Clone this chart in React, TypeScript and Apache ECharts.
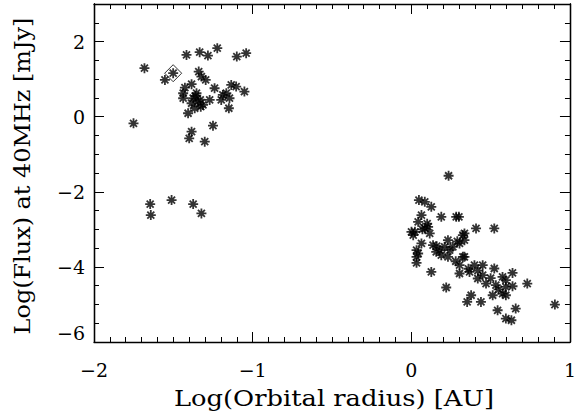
import React, { useEffect, useRef } from "react";
import * as echarts from "echarts";

// Log(Orbital radius) [AU], Log(Flux) at 40MHz [mJy]
const closeInGroup: [number, number][] = [
  [0.235, -1.573], [0.048, -2.221], [0.085, -2.267], [0.126, -2.4], [0.189, -2.667],
  [0.283, -2.667], [0.3, -2.667], [0.064, -2.621], [0.043, -2.8], [0.106, -2.933],
  [0.085, -2.976], [0.023, -3.067], [0.012, -3.155], [0.116, -3.109], [0.408, -2.976],
  [0.523, -2.976], [0.335, -3.109], [0.335, -3.288], [0.304, -3.376], [0.231, -3.288],
  [0.064, -3.376], [0.033, -3.555], [0.137, -3.421], [0.179, -3.555], [0.21, -3.467],
  [0.242, -3.555], [0.262, -3.467], [0.231, -3.733], [0.033, -3.733], [0.189, -3.688],
  [0.325, -3.733], [0.043, -3.643], [0.033, -3.893], [0.126, -4.133], [0.22, -4.549],
  [0.157, -3.6], [0.335, -3.733], [0.304, -3.955], [0.304, -4.176], [0.367, -4.133],
  [0.398, -3.955], [0.419, -4.309], [0.45, -3.955], [0.45, -4.221], [0.471, -4.443],
  [0.523, -4.043], [0.575, -4.267], [0.596, -4.355], [0.638, -4.16], [0.533, -4.488],
  [0.513, -4.755], [0.575, -4.709], [0.596, -4.533], [0.638, -4.515], [0.596, -4.755],
  [0.377, -4.755], [0.352, -4.933], [0.439, -4.933], [0.544, -5.155], [0.596, -5.376],
  [0.631, -5.421], [0.658, -5.109], [0.731, -4.443], [0.905, -5.003], [0.001, -3.067],
  [0.325, -3.155], [0.29, -3.32], [0.07, -3.0], [0.1, -2.85], [0.16, -3.45],
  [0.36, -4.05], [0.5, -4.3], [0.55, -4.6], [0.42, -4.1], [0.28, -3.85],
];

const outerGroup: [number, number][] = [
  [-1.417, 1.645], [-1.334, 1.717], [-1.282, 1.627], [-1.223, 1.824], [-1.1, 1.6],
  [-1.041, 1.691], [-1.682, 1.291], [-1.501, 1.157], [-1.553, 0.979], [-1.34, 1.2],
  [-1.323, 1.067], [-1.296, 0.979], [-1.385, 0.864], [-1.427, 0.773], [-1.438, 0.624],
  [-1.438, 0.491], [-1.354, 0.624], [-1.375, 0.491], [-1.344, 0.4], [-1.385, 0.357],
  [-1.313, 0.312], [-1.271, 0.445], [-1.24, 0.757], [-1.188, 0.579], [-1.166, 0.624],
  [-1.135, 0.845], [-1.104, 0.8], [-1.052, 0.667], [-1.146, 0.491], [-1.198, 0.445],
  [-1.15, 0.224], [-1.365, 0.224], [-1.407, 0.091], [-1.327, 0.267], [-1.751, -0.176],
  [-1.25, -0.24], [-1.385, -0.4], [-1.4, -0.576], [-1.302, -0.667], [-1.36, 0.55],
  [-1.33, 0.45],
];

const lowFluxGroup: [number, number][] = [
  [-1.646, -2.328], [-1.642, -2.621], [-1.511, -2.221], [-1.375, -2.328], [-1.323, -2.576],
];

const markedPoint: [number, number][] = [[-1.501, 1.157]];

const xTitle = "Log(Orbital radius) [AU]";
const yTitle = "Log(Flux) at 40MHz [mJy]";

const STAR = "path://M5,0L5,10M0,5L10,5M1.5,1.5L8.5,8.5M8.5,1.5L1.5,8.5";
const FONT = "DejaVu Serif";
const minus = (v: number) => String(v).replace("-", "\u2212");

export default function App() {
  const ref = useRef<HTMLDivElement>(null);
  useEffect(() => {
    document.body.style.margin = "0";
    const chart = echarts.init(ref.current!, null, { renderer: "svg" });
    const line = { show: true, onZero: false, lineStyle: { color: "#000", width: 1.3 } };
    const major = { inside: true, length: 10, lineStyle: { color: "#000", width: 1 } };
    const minor = { inside: true, length: 5, lineStyle: { color: "#000", width: 1 } };
    const starSeries = (data: [number, number][]) => ({
      type: "scatter",
      data,
      symbol: STAR,
      symbolSize: 10,
      itemStyle: { color: "none", borderColor: "#000", borderWidth: 1.8 },
      xAxisIndex: 0,
      yAxisIndex: 0,
    });
    chart.setOption({
      animation: false,
      backgroundColor: "#fff",
      grid: { left: 94, top: 4, width: 479, height: 338 },
      xAxis: [
        {
          type: "value", position: "bottom", min: -2, max: 1, interval: 1,
          axisLine: line, axisTick: major,
          minorTick: { show: true, splitNumber: 10, length: 5, lineStyle: { color: "#000", width: 1 } },
          splitLine: { show: false }, minorSplitLine: { show: false },
          axisLabel: { color: "#000", fontFamily: FONT, fontSize: 19, margin: 18, formatter: minus },
        },
        {
          type: "value", position: "top", min: -2, max: 1, interval: 1,
          axisLine: line, axisTick: major,
          minorTick: { show: true, splitNumber: 10, length: 5, lineStyle: { color: "#000", width: 1 } },
          splitLine: { show: false }, axisLabel: { show: false },
        },
      ],
      yAxis: [
        {
          type: "value", position: "left", min: -6, max: 3, interval: 2,
          axisLine: line, axisTick: major, splitLine: { show: false },
          axisLabel: {
            color: "#000", fontFamily: FONT, fontSize: 19, margin: 9,
            verticalAlignMinLabel: "bottom",
            formatter: (v: number) => (v > 2 ? "" : minus(v)),
          },
        },
        {
          type: "value", position: "left", min: -6, max: 3, interval: 0.5,
          axisLine: line, axisTick: minor, splitLine: { show: false }, axisLabel: { show: false },
        },
        {
          type: "value", position: "right", min: -6, max: 3, interval: 2,
          axisLine: line, axisTick: major, splitLine: { show: false }, axisLabel: { show: false },
        },
        {
          type: "value", position: "right", min: -6, max: 3, interval: 0.5,
          axisLine: line, axisTick: minor, splitLine: { show: false }, axisLabel: { show: false },
        },
      ],
      graphic: [
        {
          type: "text", x: 334, y: 398, scaleX: 1.12,
          style: {
            text: xTitle, fill: "#000", fontFamily: FONT, fontSize: 23,
            align: "center", verticalAlign: "middle",
          },
        },
        {
          type: "text", x: 22, y: 176, rotation: Math.PI / 2, scaleX: 1.04,
          style: {
            text: yTitle, fill: "#000", fontFamily: FONT, fontSize: 23,
            align: "center", verticalAlign: "middle",
          },
        },
      ],
      series: [
        starSeries(closeInGroup),
        starSeries(outerGroup),
        starSeries(lowFluxGroup),
        {
          type: "scatter",
          data: markedPoint,
          symbol: "diamond",
          symbolSize: 17,
          itemStyle: { color: "none", borderColor: "#000", borderWidth: 1 },
          xAxisIndex: 0,
          yAxisIndex: 0,
        },
      ],
    });
    return () => chart.dispose();
  }, []);
  return <div ref={ref} style={{ width: 579, height: 414 }} />;
}
